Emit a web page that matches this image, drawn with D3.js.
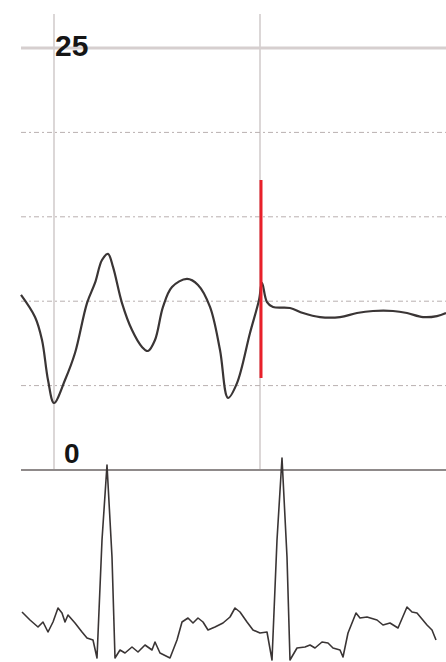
<!DOCTYPE html>
<html>
<head>
<meta charset="utf-8">
<script src="https://cdn.jsdelivr.net/npm/d3@7"></script>
<style>
  html, body { margin: 0; padding: 0; background: #fff; }
  svg { display: block; }
</style>
</head>
<body>
<svg id="chart" width="446" height="662"></svg>
<script>
// ---- DATA ----
// time in ms, pressure in mmHg (scale 0..25), ECG in mV
const pressureTime = [0,56,84,108,132,176,216,264,296,324,348,368,404,444,484,508,536,568,604,664,708,756,796,828,864,916,952,964,984,1008,1076,1128,1196,1276,1344,1408,1488,1544,1608,1664,1700];
const pressureValue = [10.37,9.06,7.70,5.33,3.97,5.33,6.93,9.89,11.08,12.44,12.80,12.03,9.89,8.29,7.29,7.05,7.70,9.66,10.84,11.32,10.96,9.66,7.11,4.27,5.15,8.12,10.07,11.08,9.95,9.66,9.60,9.30,9.06,9.06,9.30,9.42,9.42,9.30,9.06,9.12,9.30];

const ecgTime = [4,36,68,88,108,128,148,164,176,188,216,244,264,288,304,324,344,364,376,396,416,444,468,496,524,536,556,596,624,644,668,688,708,728,748,776,808,836,856,876,904,928,956,984,1004,1024,1044,1064,1076,1104,1136,1156,1176,1204,1228,1248,1276,1288,1308,1340,1356,1384,1424,1448,1476,1508,1544,1564,1584,1624,1644,1660];
const ecgValue = [0.08,0.00,-0.07,-0.02,-0.12,-0.02,0.12,0.07,-0.02,0.05,-0.03,-0.12,-0.18,-0.20,-0.38,0.80,1.55,0.63,-0.38,-0.30,-0.33,-0.27,-0.32,-0.25,-0.30,-0.22,-0.33,-0.38,-0.20,-0.02,0.02,-0.03,0.02,-0.02,-0.10,-0.07,-0.03,0.03,0.12,0.08,-0.02,-0.10,-0.13,-0.12,-0.40,0.80,1.62,0.63,-0.40,-0.28,-0.27,-0.25,-0.28,-0.22,-0.23,-0.28,-0.30,-0.37,-0.13,0.07,0.02,0.03,0.00,-0.05,-0.03,-0.08,0.13,0.08,0.07,-0.05,-0.10,-0.20];

const gridValues = [20, 15, 10, 5];
const topValue = 25;
const zeroValue = 0;
const tickLabels = ["25", "0"];
const markerTimes = [132, 956];
const redMarkerTime = 960;
const redMarkerRange = [5.45, 17.18];

// ---- SCALES ----
const svg = d3.select("#chart");
const x = d3.scaleLinear().domain([0, 1700]).range([21, 446]);
const y = d3.scaleLinear().domain([0, 25]).range([470, 48]);
const yEcg = d3.scaleLinear().domain([-0.4, 1.6]).range([660, 460]);

// vertical marker lines
svg.selectAll("line.vmark").data(markerTimes).enter().append("line")
  .attr("x1", d => x(d)).attr("x2", d => x(d))
  .attr("y1", 14).attr("y2", y(zeroValue))
  .attr("stroke", "#c4bcbc").attr("stroke-width", 1.2);

// dotted grid lines
svg.selectAll("line.grid").data(gridValues).enter().append("line")
  .attr("x1", x(0)).attr("x2", x(1700))
  .attr("y1", d => y(d)).attr("y2", d => y(d))
  .attr("stroke", "#b9b0b0").attr("stroke-width", 1)
  .attr("stroke-dasharray", "5,3,2,3");

// top solid line (25)
svg.append("line")
  .attr("x1", x(0)).attr("x2", x(1700))
  .attr("y1", y(topValue)).attr("y2", y(topValue))
  .attr("stroke", "#d6cfcf").attr("stroke-width", 3);

// zero line
svg.append("line")
  .attr("x1", x(0)).attr("x2", x(1700))
  .attr("y1", y(zeroValue)).attr("y2", y(zeroValue))
  .attr("stroke", "#8f8a8a").attr("stroke-width", 2);

// labels
svg.append("text").text(tickLabels[0])
  .attr("x", 55).attr("y", y(topValue) + 8)
  .attr("font-family", "Liberation Sans, Arial, sans-serif")
  .attr("font-weight", "bold").attr("font-size", 30).attr("fill", "#151515");
svg.append("text").text(tickLabels[1])
  .attr("x", 64).attr("y", y(zeroValue) - 7)
  .attr("font-family", "Liberation Sans, Arial, sans-serif")
  .attr("font-weight", "bold").attr("font-size", 28).attr("fill", "#151515");

// pressure curve
const pData = pressureTime.map((t, i) => [t, pressureValue[i]]);
svg.append("path").datum(pData)
  .attr("d", d3.line().x(d => x(d[0])).y(d => y(d[1])).curve(d3.curveCatmullRom.alpha(0.5)))
  .attr("fill", "none").attr("stroke", "#3a3535").attr("stroke-width", 2.2);

// red marker
svg.append("line")
  .attr("x1", x(redMarkerTime)).attr("x2", x(redMarkerTime))
  .attr("y1", y(redMarkerRange[1])).attr("y2", y(redMarkerRange[0]))
  .attr("stroke", "#e8202a").attr("stroke-width", 3);

// ECG
const eData = ecgTime.map((t, i) => [t, ecgValue[i]]);
svg.append("path").datum(eData)
  .attr("d", d3.line().x(d => x(d[0])).y(d => yEcg(d[1])))
  .attr("fill", "none").attr("stroke", "#3a3535").attr("stroke-width", 1.6)
  .attr("stroke-linejoin", "round");
</script>
</body>
</html>
